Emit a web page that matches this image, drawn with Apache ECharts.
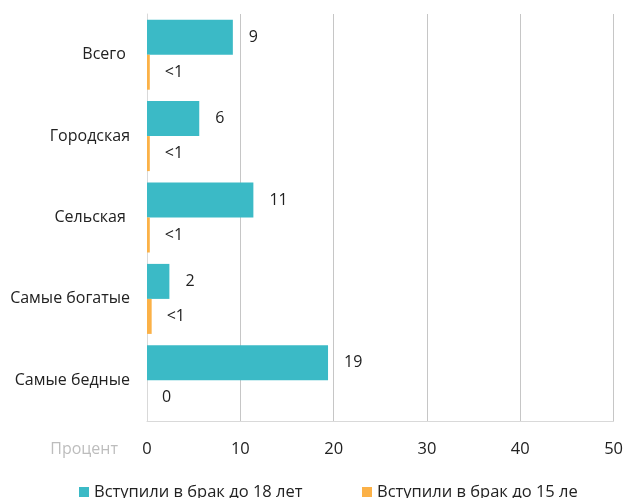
<!DOCTYPE html>
<html>
<head>
<meta charset="utf-8">
<script src="https://cdn.jsdelivr.net/npm/echarts@6/dist/echarts.min.js"></script>
<style>
  html, body { margin: 0; padding: 0; background: #fff; }
  #chart { width: 626px; height: 498px; }
</style>
</head>
<body>
<div id="chart"></div>
<script>
// Доля женщин, вступивших в брак в раннем возрасте, по группам
const categories = ['Всего ', 'Городская', 'Сельская ', 'Самые богатые', 'Самые бедные'];
const seriesNames = ['Вступили в брак до 18 лет', 'Вступили в брак до 15 ле'];
const before18 = [9.2, 5.6, 11.4, 2.4, 19.4];
const before15 = [0.3, 0.3, 0.3, 0.5, 0];
const axisTicks = [0, 10, 20, 30, 40, 50];

const FONT = '"Open Sans", "Noto Sans", sans-serif';
const TEAL = '#3bbac6';
const ORANGE = '#fbb147';

// Подпись значения: округление, «<1» для долей меньше процента
function fmt(v) {
  if (v === 0) return '0';
  if (v < 1) return '<1';
  return String(Math.round(v));
}

function legendAt(left, name) {
  return {
    left: left,
    top: 482,
    padding: 0,
    width: 400,
    itemWidth: 10,
    itemHeight: 10,
    icon: 'rect',
    textStyle: { color: '#222', fontSize: 16.5, lineHeight: 20, fontFamily: FONT },
    data: [name]
  };
}

const chart = echarts.init(document.getElementById('chart'), null, { renderer: 'canvas' });

chart.setOption({
  animation: false,
  textStyle: { fontFamily: FONT },
  grid: { left: 147, right: 11, top: 14, bottom: 77, containLabel: false },
  xAxis: {
    type: 'value',
    min: axisTicks[0],
    max: axisTicks[axisTicks.length - 1],
    interval: axisTicks[1] - axisTicks[0],
    axisLine: { show: true, lineStyle: { color: '#d9d9d9', width: 1 } },
    axisTick: { show: false },
    axisLabel: { color: '#222', fontSize: 16.5, margin: 20, fontFamily: FONT },
    splitLine: { show: true, lineStyle: { color: '#c6c6c6', width: 1 } }
  },
  yAxis: {
    type: 'category',
    data: categories,
    inverse: true,
    axisLine: { show: true, lineStyle: { color: '#d9d9d9', width: 1 } },
    axisTick: { show: false },
    axisLabel: { color: '#222', fontSize: 16, margin: 17, fontFamily: FONT }
  },
  legend: [legendAt(79, seriesNames[0]), legendAt(362, seriesNames[1])],
  graphic: [{
    type: 'text',
    x: 118,
    y: 449,
    style: {
      text: 'Процент', fill: '#bdbdbd', font: '16px ' + FONT,
      align: 'right', verticalAlign: 'middle'
    }
  }],
  series: [
    {
      name: seriesNames[0],
      type: 'bar',
      data: before18,
      barGap: '0%',
      barCategoryGap: '14%',
      itemStyle: { color: TEAL },
      label: {
        show: true, position: 'right', distance: 16,
        color: '#222', fontSize: 16, fontFamily: FONT,
        formatter: p => fmt(p.value)
      }
    },
    {
      name: seriesNames[1],
      type: 'bar',
      data: before15,
      barGap: '0%',
      barCategoryGap: '14%',
      itemStyle: { color: ORANGE },
      label: {
        show: true, position: 'right', distance: 15,
        color: '#222', fontSize: 16, fontFamily: FONT,
        formatter: p => fmt(p.value)
      }
    }
  ]
});
</script>
</body>
</html>
